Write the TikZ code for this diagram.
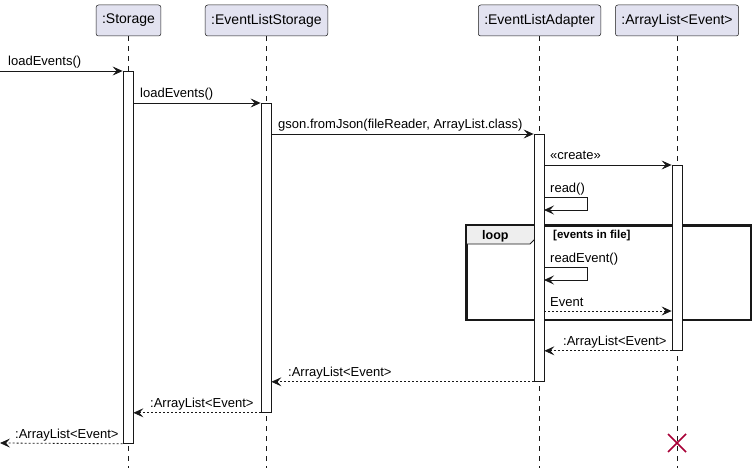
\documentclass[tikz,border=0pt]{standalone}
\usepackage{fontspec}
\setmainfont{Liberation Sans}
\usetikzlibrary{arrows.meta,calc}
\definecolor{partfill}{HTML}{E2E2F0}
\definecolor{ink}{HTML}{181818}
\definecolor{tabfill}{HTML}{EEEEEE}
\definecolor{killred}{HTML}{A80036}
\begin{document}
\begin{tikzpicture}[x=1pt,y=-1pt,
  part/.style={draw=ink,fill=partfill,rounded corners=2.5pt,line width=0.5pt,minimum height=31pt,inner xsep=6pt,font=\fontsize{14}{16}\selectfont},
  life/.style={draw=ink,line width=0.5pt,dash pattern=on 5pt off 5pt},
  actbar/.style={draw=ink,fill=white,line width=0.8pt,minimum width=10pt,inner sep=0pt,anchor=north},
  msg/.style={draw=ink,line width=0.8pt,-{Stealth[length=10pt,width=9pt,inset=4pt]}},
  ret/.style={msg,dash pattern=on 2pt off 2pt},
  lbl/.style={font=\fontsize{13}{15}\selectfont,inner sep=0pt,anchor=base west},
  every node/.append style={text=black}]
\useasboundingbox (0,0) rectangle (755,468);
% participants
\node[part] (p1) at (128.5,20.5) {:Storage};
\node[part] (p2) at (266.5,20.5) {:EventListStorage};
\node[part] (p3) at (539.5,20.5) {:EventListAdapter};
\node[part] (p4) at (677,20.5) {:ArrayList<Event>};
% lifelines
\coordinate (e1) at (128,468);
\coordinate (e2) at (266,468);
\coordinate (e3) at (539,468);
\coordinate (e4) at (677,468);
\draw[life] (p1.south -| e1) -- (e1);
\draw[life] (p2.south -| e2) -- (e2);
\draw[life] (p3.south -| e3) -- (e3);
\draw[life] (p4.south -| e4) -- (e4);
% loop frame
\node[draw=ink,line width=1.5pt,minimum width=284pt,minimum height=94pt,anchor=north west,inner sep=0pt] (loopf) at (466,225) {};
\draw[draw=ink,fill=tabfill,line width=0.8pt] (loopf.north west) -- (540,225) -- (540,234) -- (530,244) -- (466,244) -- cycle;
\draw[draw=ink,line width=1.5pt] (loopf.north west) rectangle (loopf.south east);
\node[font=\bfseries\fontsize{12.5}{14}\selectfont,inner sep=0pt,anchor=base west] (looplbl) at (482,239) {loop};
\node[font=\bfseries\fontsize{11.5}{13}\selectfont,inner sep=0pt,anchor=base west] (guard) at (553,238.5) {[events in file]};
% activation bars
\node[actbar,minimum height=372pt] (a1) at (128,71) {};
\node[actbar,minimum height=309pt] (a2) at (266,103) {};
\node[actbar,minimum height=247pt] (a3) at (539,134) {};
\node[actbar,minimum height=185pt] (a4) at (677,165) {};
% messages
\coordinate (in1) at (0,71);
\coordinate (out1) at (0,443);
\draw[msg] (in1) -- (a1.north west);
\node[lbl] (l1) at (8,66) {loadEvents()};
\draw[msg] (a2.north west -| a1.east) -- (a2.north west);
\node[lbl] (l2) at (140,98) {loadEvents()};
\draw[msg] (a3.north west -| a2.east) -- (a3.north west);
\node[lbl] (l3) at (278,129) {gson.fromJson(fileReader, ArrayList.class)};
\draw[msg] (a4.north west -| a3.east) -- (a4.north west);
\node[lbl] (l4) at (550,160) {«create»};
% read() self call
\coordinate (r1) at (544,197);
\coordinate (r2) at (587,197);
\coordinate (r3) at (587,210);
\coordinate (r4) at (544,210);
\draw[msg] (r1) -- (r2) -- (r3) -- (r4);
\node[lbl] (l5) at (550,192) {read()};
% readEvent() self call
\coordinate (s1) at (544,267);
\coordinate (s2) at (587,267);
\coordinate (s3) at (587,280);
\coordinate (s4) at (544,280);
\draw[msg] (s1) -- (s2) -- (s3) -- (s4);
\node[lbl] (l6) at (550,262) {readEvent()};
% Event
\coordinate (ev1) at (544,311);
\draw[ret] (ev1) -- (ev1 -| a4.west);
\node[lbl] (l7) at (550,306) {Event};
% returns
\draw[ret] (a4.south west) -- (a4.south west -| a3.east);
\node[lbl] (l8) at (563,345) {:ArrayList<Event>};
\draw[ret] (a3.south west) -- (a3.south west -| a2.east);
\node[lbl] (l9) at (288,376) {:ArrayList<Event>};
\draw[ret] (a2.south west) -- (a2.south west -| a1.east);
\node[lbl] (l10) at (150,407) {:ArrayList<Event>};
\draw[ret] (a1.south west) -- (out1);
\node[lbl] (l11) at (15,438) {:ArrayList<Event>};
% destroy
\coordinate (x0) at (677,443);
\draw[killred,line width=1.5pt] ($(x0)+(-9,-9)$) -- ($(x0)+(9,9)$) ($(x0)+(-9,9)$) -- ($(x0)+(9,-9)$);
\end{tikzpicture}
\end{document}
